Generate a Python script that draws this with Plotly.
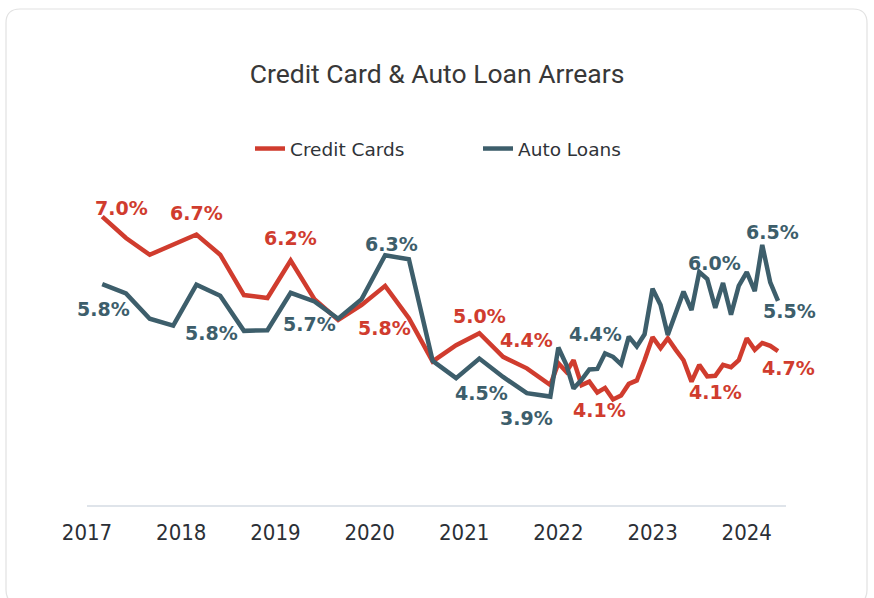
import pandas as pd
import plotly.graph_objects as go

# Quarterly observations through 2021, monthly from 2022 onward
quarter_dates = [d.strftime("%Y-%m-%d") for d in pd.date_range("2017-03-01", "2021-12-01", freq="3MS")]
month_dates = [d.strftime("%Y-%m-%d") for d in pd.date_range("2022-01-01", "2024-05-01", freq="MS")]
dates = quarter_dates + month_dates

credit_cards = [
    7.00, 6.63, 6.34, 6.51, 6.69, 6.34, 5.64, 5.59, 6.24, 5.57,
    5.21, 5.47, 5.80, 5.24, 4.49, 4.77, 4.98, 4.57, 4.37, 4.08,
    4.46, 4.31, 4.51, 4.08, 4.14, 3.95, 4.03, 3.83, 3.90, 4.10,
    4.16, 4.51, 4.91, 4.72, 4.89, 4.69, 4.51, 4.14, 4.43, 4.23,
    4.24, 4.43, 4.39, 4.51, 4.89, 4.69, 4.81, 4.76, 4.67,
]
auto_loans = [
    5.83, 5.67, 5.23, 5.11, 5.82, 5.63, 5.02, 5.03, 5.68, 5.53,
    5.23, 5.57, 6.33, 6.26, 4.50, 4.20, 4.54, 4.22, 3.94, 3.88,
    4.73, 4.43, 4.02, 4.17, 4.35, 4.36, 4.63, 4.57, 4.44, 4.92,
    4.75, 4.96, 5.75, 5.47, 4.95, 5.32, 5.70, 5.38, 6.04, 5.92,
    5.42, 5.85, 5.30, 5.80, 6.04, 5.71, 6.51, 5.86, 5.54,
]

year_ticks = ["2017", "2018", "2019", "2020", "2021", "2022", "2023", "2024"]

RED = "#D03C2E"
SLATE = "#3D5E6B"

# Which points carry a value label, and the pixel offset of each label
credit_label_offsets = {
    "2017-03-01": (19, 9),
    "2018-03-01": (0, 22),
    "2019-03-01": (0, 22),
    "2020-03-01": (-1, -42),
    "2021-03-01": (0, 17),
    "2021-09-01": (0, 28),
    "2022-05-01": (10, -28),
    "2023-06-01": (24, -10),
    "2024-05-01": (10, -17),
}
auto_label_offsets = {
    "2017-03-01": (1, -25),
    "2018-03-01": (15, -48),
    "2019-03-01": (19, -31),
    "2020-03-01": (6, 11),
    "2021-03-01": (2, -34),
    "2021-09-01": (0, -25),
    "2022-06-01": (-2, 35),
    "2023-07-01": (15, 9),
    "2024-03-01": (10, 13),
    "2024-05-01": (11, -10),
}

fig = go.Figure()
fig.add_trace(go.Scatter(x=dates, y=credit_cards, mode="lines", name="Credit Cards",
                         line=dict(color=RED, width=4.5)))
fig.add_trace(go.Scatter(x=dates, y=auto_loans, mode="lines", name="Auto Loans",
                         line=dict(color=SLATE, width=4.5)))

annotations = []
for values, offsets, color in ((credit_cards, credit_label_offsets, RED),
                               (auto_loans, auto_label_offsets, SLATE)):
    for d, (dx, dy) in offsets.items():
        v = values[dates.index(d)]
        annotations.append(dict(
            x=d, y=v, xref="x", yref="y", text=f"{v:.1f}%", showarrow=False,
            xshift=dx, yshift=dy,
            font=dict(family="DejaVu Sans", size=19, color=color, weight="bold"),
        ))

# Plot-area geometry in pixels, used to place the card outline and legend
L, R, T, B = 87, 786, 159, 505
W, H = R - L, B - T


def px(x):
    return (x - L) / W


def py(y):
    return (B - y) / H


x0, x1, y0, y1, r = 6, 867, 9, 604, 14
card_path = (
    f"M {px(x0 + r)},{py(y0)} L {px(x1 - r)},{py(y0)} "
    f"Q {px(x1)},{py(y0)} {px(x1)},{py(y0 + r)} L {px(x1)},{py(y1 - r)} "
    f"Q {px(x1)},{py(y1)} {px(x1 - r)},{py(y1)} L {px(x0 + r)},{py(y1)} "
    f"Q {px(x0)},{py(y1)} {px(x0)},{py(y1 - r)} L {px(x0)},{py(y0 + r)} "
    f"Q {px(x0)},{py(y0)} {px(x0 + r)},{py(y0)} Z"
)

fig.update_layout(
    width=874, height=598,
    margin=dict(l=L, r=874 - R, t=T, b=598 - B),
    paper_bgcolor="white", plot_bgcolor="white",
    title=dict(text="Credit Card & Auto Loan Arrears", x=0.5, xanchor="center",
               y=1 - 74 / 598, yanchor="middle",
               font=dict(family="Roboto", size=26.5, color="#383838")),
    legend=dict(orientation="h", x=px(250), xanchor="left", y=py(149), yanchor="middle",
                font=dict(family="DejaVu Sans", size=18.5, color="#2f3338"),
                entrywidth=183, entrywidthmode="pixels"),
    xaxis=dict(type="date", range=["2017-01-01", "2024-06-01"],
               tickvals=[f"{y}-01-01" for y in year_ticks], ticktext=year_ticks,
               showgrid=False, zeroline=False, showline=True, linecolor="#dfe4ea", linewidth=1.5,
               ticks="outside", ticklen=7, tickcolor="rgba(0,0,0,0)",
               tickfont=dict(family="DejaVu Sans Condensed, Liberation Sans", size=22, color="#2b2f36")),
    yaxis=dict(range=[2, 8], visible=False, showgrid=False, zeroline=False),
    annotations=annotations,
    shapes=[dict(type="path", path=card_path, xref="paper", yref="paper",
                 line=dict(color="#e2e2e2", width=1.2), layer="below")],
)

fig.write_html("out.html")
